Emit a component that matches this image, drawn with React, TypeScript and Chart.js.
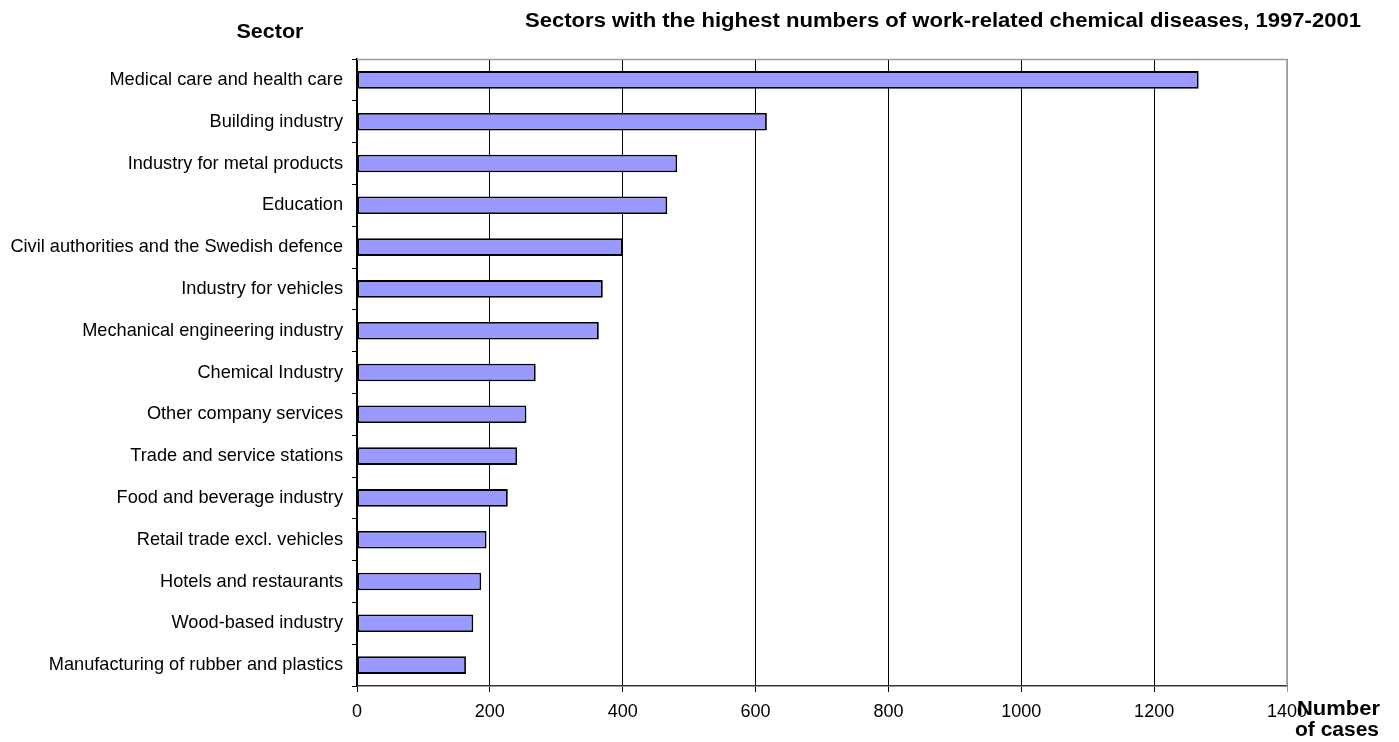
import React, { useEffect, useRef } from "react";
import { Chart, registerables } from "chart.js";

Chart.register(...registerables);

const categories = [
  "Medical care and health care",
  "Building industry",
  "Industry for metal products",
  "Education",
  "Civil authorities and the Swedish defence",
  "Industry for vehicles",
  "Mechanical engineering industry",
  "Chemical Industry",
  "Other company services",
  "Trade and service stations",
  "Food and beverage industry",
  "Retail trade excl. vehicles",
  "Hotels and restaurants",
  "Wood-based industry",
  "Manufacturing of rubber and plastics",
];

const cases = [1267, 617, 482, 467, 400, 370, 364, 269, 255, 241, 227, 195, 187, 175, 164];

const xTicks = [0, 200, 400, 600, 800, 1000, 1200, 1400];

const chartTitle = "Sectors with the highest numbers of work-related chemical diseases, 1997-2001";
const yTitle = "Sector";
const xTitleLines = ["Number", "of cases"];

const FONT = "'Liberation Sans', Arial, sans-serif";

function drawScaledText(
  ctx: CanvasRenderingContext2D,
  text: string,
  x: number,
  y: number,
  align: "left" | "right" | "center",
  size: number,
  targetWidth: number
) {
  ctx.save();
  ctx.font = `bold ${size}px ${FONT}`;
  ctx.fillStyle = "#000";
  ctx.textBaseline = "alphabetic";
  ctx.textAlign = "left";
  const w = ctx.measureText(text).width;
  const s = targetWidth / w;
  let left = x;
  if (align === "right") left = x - targetWidth;
  if (align === "center") left = x - targetWidth / 2;
  ctx.translate(left, y);
  ctx.scale(s, 1);
  ctx.fillText(text, 0, 0);
  ctx.restore();
}

const decorPlugin = {
  id: "decor",
  afterDatasetsDraw(chart: any) {
    const { ctx, chartArea } = chart;
    ctx.save();
    ctx.strokeStyle = "#9a9a9a";
    ctx.lineWidth = 1.5;
    ctx.beginPath();
    ctx.moveTo(chartArea.left, chartArea.top + 0.5);
    ctx.lineTo(chartArea.right, chartArea.top + 0.5);
    ctx.lineTo(chartArea.right, chartArea.bottom);
    ctx.stroke();
    ctx.restore();
  },
  afterDraw(chart: any) {
    const { ctx } = chart;
    drawScaledText(ctx, chartTitle, 1361, 27, "right", 20, 836);
    drawScaledText(ctx, yTitle, 270, 38, "center", 21, 67);
    drawScaledText(ctx, xTitleLines[0], 1380, 715, "right", 20, 83);
    drawScaledText(ctx, xTitleLines[1], 1379, 736, "right", 20, 84);
  },
};

export default function App() {
  const ref = useRef<HTMLCanvasElement | null>(null);

  useEffect(() => {
    if (!ref.current) return;
    const chart = new Chart(ref.current, {
      type: "bar",
      data: {
        labels: categories,
        datasets: [
          {
            data: cases,
            backgroundColor: "#9999FF",
            borderColor: "#000000",
            borderWidth: 1.8,
            borderSkipped: false,
            barPercentage: 0.42,
            categoryPercentage: 1,
          },
        ],
      },
      options: {
        indexAxis: "y",
        responsive: false,
        animation: false,
        layout: { padding: { top: 59, right: 112, left: 0, bottom: 0 } },
        plugins: {
          legend: { display: false },
          tooltip: { enabled: false },
          title: { display: false },
        },
        scales: {
          x: {
            type: "linear",
            min: 0,
            max: 1400,
            afterBuildTicks: (scale: any) => {
              scale.ticks = xTicks.map((v) => ({ value: v }));
            },
            afterFit: (scale: any) => {
              scale.height = 56;
            },
            ticks: {
              color: "#000",
              font: { family: FONT, size: 18 },
              padding: 9,
              maxRotation: 0,
              autoSkip: false,
              callback: (v: any) => String(v),
            },
            grid: {
              color: (c: any) => (c.tick && c.tick.value === 1400 ? "#9a9a9a" : "#000"),
              lineWidth: 1,
              tickLength: 6,
              drawTicks: true,
            },
            border: { display: true, color: "#333", width: 1.5 },
          },
          y: {
            type: "category",
            afterFit: (scale: any) => {
              scale.width = 357;
            },
            ticks: {
              color: "#000",
              font: { family: FONT, size: 18.2 },
              padding: 9,
              autoSkip: false,
            },
            grid: {
              offset: true,
              drawOnChartArea: false,
              drawTicks: true,
              tickLength: 5,
              color: "#000",
            },
            border: { display: true, color: "#000", width: 1.5 },
          },
        },
      },
      plugins: [decorPlugin],
    } as any);
    return () => chart.destroy();
  }, []);

  return (
    <div style={{ position: "absolute", left: 0, top: 0, width: 1399, height: 742, background: "#fff" }}>
      <canvas ref={ref} width={1399} height={742} style={{ display: "block", width: 1399, height: 742 }} />
    </div>
  );
}
